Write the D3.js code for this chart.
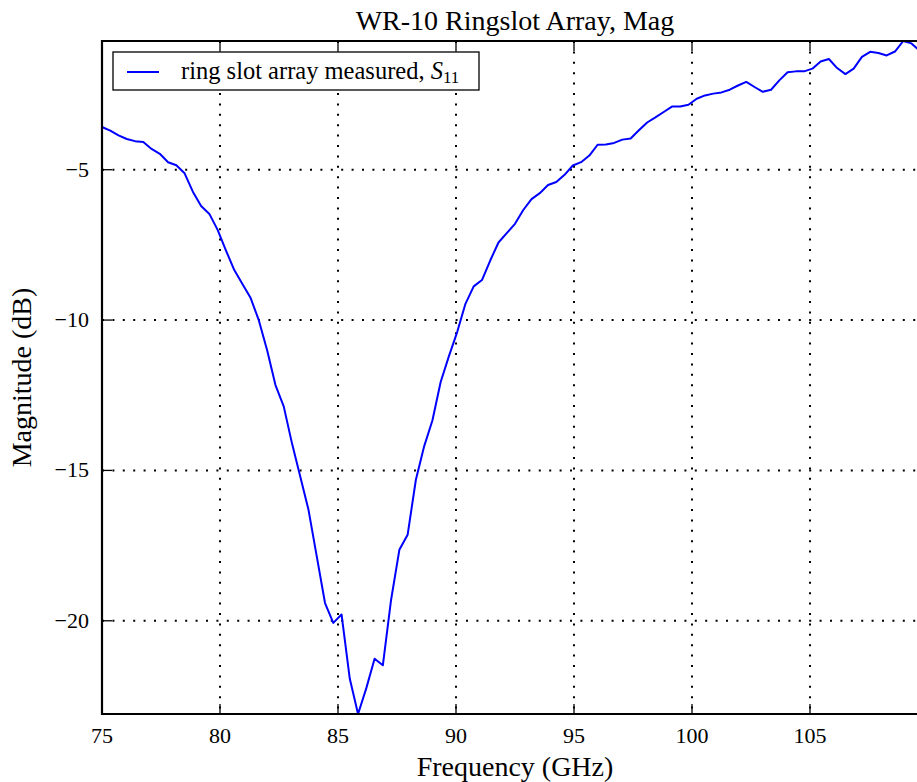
<!DOCTYPE html>
<html>
<head>
<meta charset="utf-8">
<script src="https://cdn.jsdelivr.net/npm/d3@7"></script>
<style>
body { margin: 0; background: #fff; overflow: hidden; }
text { font-family: "Liberation Serif", "DejaVu Serif", serif; fill: #000; }
</style>
</head>
<body>
<div id="chart"></div>
<script>
// sweep frequencies (GHz) and measured |S11| (dB)
var freqGHz = [75, 75.35, 75.7, 76.05, 76.4, 76.75, 77.1, 77.45, 77.8, 78.15,
    78.5, 78.85, 79.2, 79.55, 79.9, 80.25, 80.6, 80.95, 81.3, 81.65,
    82, 82.35, 82.7, 83.05, 83.4, 83.75, 84.1, 84.45, 84.8, 85.15,
    85.5, 85.85, 86.2, 86.55, 86.9, 87.25, 87.6, 87.95, 88.3, 88.65,
    89, 89.35, 89.7, 90.05, 90.4, 90.75, 91.1, 91.45, 91.8, 92.15,
    92.5, 92.85, 93.2, 93.55, 93.9, 94.25, 94.6, 94.95, 95.3, 95.65,
    96, 96.35, 96.7, 97.05, 97.4, 97.75, 98.1, 98.45, 98.8, 99.15,
    99.5, 99.85, 100.2, 100.55, 100.9, 101.25, 101.6, 101.95, 102.3, 102.65,
    103, 103.35, 103.7, 104.05, 104.4, 104.75, 105.1, 105.45, 105.8, 106.15,
    106.5, 106.85, 107.2, 107.55, 107.9, 108.25, 108.6, 108.95, 109.3, 109.65, 110];

var s11dB = [-3.58, -3.70, -3.86, -3.98, -4.05, -4.08, -4.31, -4.47, -4.75, -4.85,
    -5.12, -5.73, -6.21, -6.47, -7.00, -7.68, -8.33, -8.80, -9.27, -10.02,
    -11.01, -12.16, -12.87, -14.10, -15.20, -16.31, -17.86, -19.41, -20.07, -19.79,
    -21.93, -23.10, -22.24, -21.26, -21.48, -19.30, -17.64, -17.14, -15.31, -14.20,
    -13.34, -12.06, -11.20, -10.40, -9.46, -8.88, -8.67, -8.02, -7.42, -7.11,
    -6.80, -6.34, -5.98, -5.78, -5.51, -5.41, -5.17, -4.86, -4.75, -4.53,
    -4.17, -4.16, -4.11, -4.00, -3.96, -3.69, -3.43, -3.26, -3.08, -2.90,
    -2.90, -2.84, -2.64, -2.53, -2.47, -2.43, -2.34, -2.20, -2.08, -2.25,
    -2.41, -2.34, -2.03, -1.76, -1.73, -1.73, -1.64, -1.40, -1.32, -1.62,
    -1.82, -1.64, -1.25, -1.08, -1.12, -1.20, -1.07, -0.72, -0.80, -1.05, -1.20];

var xTicks = [75, 80, 85, 90, 95, 100, 105];
var xGrid = [80, 85, 90, 95, 100, 105, 110];
var yTicks = [-5, -10, -15, -20];

var chartTitle = "WR-10 Ringslot Array, Mag";
var xLabel = "Frequency (GHz)";
var yLabel = "Magnitude (dB)";
var seriesName = "ring slot array measured, ";

var width = 917, height = 782;
var margin = {left: 102, top: 41, right: 928, bottom: 714};

var svg = d3.select("#chart").append("svg")
    .attr("width", width)
    .attr("height", height);

var x = d3.scaleLinear().domain([75, 110]).range([margin.left, margin.right]);
var y = d3.scaleLinear().domain(d3.extent(s11dB)).range([margin.bottom, margin.top]);

// dotted grid
svg.append("g").selectAll("line.vg")
    .data(xGrid).enter().append("line")
    .attr("x1", d => x(d)).attr("x2", d => x(d))
    .attr("y1", margin.top).attr("y2", margin.bottom)
    .style("stroke", "#000").style("stroke-width", 2)
    .style("stroke-dasharray", "2,8.4");

svg.append("g").selectAll("line.hg")
    .data(yTicks).enter().append("line")
    .attr("x1", margin.left).attr("x2", margin.right)
    .attr("y1", d => y(d)).attr("y2", d => y(d))
    .style("stroke", "#000").style("stroke-width", 2)
    .style("stroke-dasharray", "2,8.4");

// inward ticks, bottom + top, left
var tickLen = 10;
var ticks = svg.append("g").style("stroke", "#000").style("stroke-width", 1.3);
xTicks.forEach(function (t) {
    ticks.append("line").attr("x1", x(t)).attr("x2", x(t))
        .attr("y1", margin.bottom).attr("y2", margin.bottom - tickLen);
    ticks.append("line").attr("x1", x(t)).attr("x2", x(t))
        .attr("y1", margin.top).attr("y2", margin.top + tickLen);
});
yTicks.forEach(function (t) {
    ticks.append("line").attr("x1", margin.left).attr("x2", margin.left + tickLen)
        .attr("y1", y(t)).attr("y2", y(t));
});

// data line
var line = d3.line()
    .x((d, i) => x(freqGHz[i]))
    .y(d => y(d));

svg.append("path")
    .datum(s11dB)
    .attr("d", line)
    .style("fill", "none")
    .style("stroke", "#0000ff")
    .style("stroke-width", 2)
    .style("stroke-linejoin", "round");

// frame
svg.append("path")
    .attr("d", "M" + margin.right + "," + margin.top + "H" + margin.left + "V" + margin.bottom + "H" + margin.right)
    .style("fill", "none")
    .style("stroke", "#000")
    .style("stroke-width", 2.2);

// tick labels
svg.append("g").selectAll("text")
    .data(xTicks).enter().append("text")
    .attr("x", d => x(d))
    .attr("y", 743)
    .attr("text-anchor", "middle")
    .style("font-size", "22px")
    .text(d => d);

svg.append("g").selectAll("text")
    .data(yTicks).enter().append("text")
    .attr("x", 89)
    .attr("y", d => y(d) + 7)
    .attr("text-anchor", "end")
    .style("font-size", "22px")
    .text(d => "\u2212" + Math.abs(d));

// labels
svg.append("text")
    .attr("x", (margin.left + margin.right) / 2)
    .attr("y", 30)
    .attr("text-anchor", "middle")
    .style("font-size", "28px")
    .text(chartTitle);

svg.append("text")
    .attr("x", (margin.left + margin.right) / 2)
    .attr("y", 776)
    .attr("text-anchor", "middle")
    .style("font-size", "28px")
    .text(xLabel);

svg.append("text")
    .attr("transform", "translate(31," + (margin.top + margin.bottom) / 2 + ") rotate(-90)")
    .attr("text-anchor", "middle")
    .style("font-size", "28px")
    .text(yLabel);

// legend
var legend = svg.append("g").attr("id", "legend");
legend.append("rect")
    .attr("x", 113).attr("y", 52)
    .attr("width", 366).attr("height", 38)
    .style("fill", "#fff")
    .style("stroke", "#000")
    .style("stroke-width", 1.3);
legend.append("line")
    .attr("x1", 127).attr("x2", 159)
    .attr("y1", 72).attr("y2", 72)
    .style("stroke", "#0000ff")
    .style("stroke-width", 2);
var lt = legend.append("text")
    .attr("x", 181).attr("y", 79)
    .style("font-size", "24.5px");
lt.append("tspan").text(seriesName);
lt.append("tspan").style("font-style", "italic").text("S");
lt.append("tspan").attr("dy", 4).style("font-size", "17px").text("11");
</script>
</body>
</html>
